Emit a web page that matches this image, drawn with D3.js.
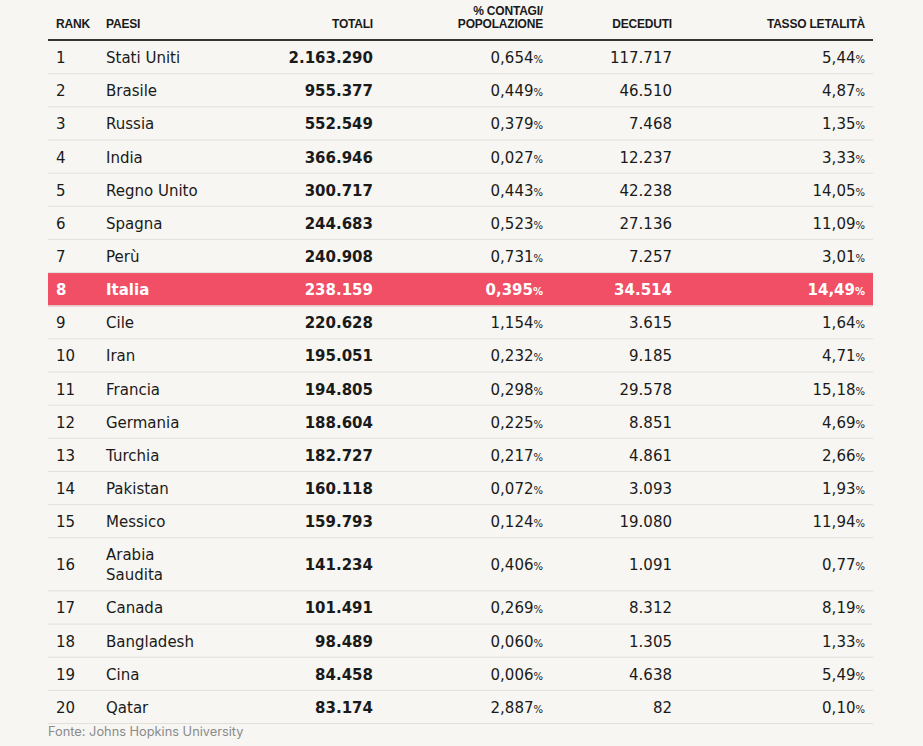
<!DOCTYPE html>
<html lang="it">
<head>
<meta charset="UTF-8">
<title>Contagi per paese</title>
<script src="https://d3js.org/d3.v7.min.js"></script>
<style>
  html, body { margin: 0; background: #f7f6f2; }
  svg { display: block; }
  .head { font-family: "Liberation Sans", Arial, sans-serif; font-weight: 700; font-size: 12px; letter-spacing: -0.2px; fill: #1a1a1a; }
  .cell { font-family: "DejaVu Sans", sans-serif; font-size: 15px; }
  .bold { font-weight: 700; }
  .pct { font-size: 10px; }
  .source { font-family: Inter, "Liberation Sans", sans-serif; font-size: 12.8px; fill: #8a8a8a; }
</style>
</head>
<body>
<script>
  const width = 923;
  const height = 746;

  // data
  const ranks = d3.range(1, 21);
  const countries = ["Stati Uniti", "Brasile", "Russia", "India", "Regno Unito", "Spagna", "Perù",
    "Italia", "Cile", "Iran", "Francia", "Germania", "Turchia", "Pakistan", "Messico",
    "Arabia Saudita", "Canada", "Bangladesh", "Cina", "Qatar"];
  const totals = [2163290, 955377, 552549, 366946, 300717, 244683, 240908, 238159, 220628, 195051,
    194805, 188604, 182727, 160118, 159793, 141234, 101491, 98489, 84458, 83174];
  const pctPopulation = [0.654, 0.449, 0.379, 0.027, 0.443, 0.523, 0.731, 0.395, 1.154, 0.232,
    0.298, 0.225, 0.217, 0.072, 0.124, 0.406, 0.269, 0.060, 0.006, 2.887];
  const deaths = [117717, 46510, 7468, 12237, 42238, 27136, 7257, 34514, 3615, 9185,
    29578, 8851, 4861, 3093, 19080, 1091, 8312, 1305, 4638, 82];
  const lethality = [5.44, 4.87, 1.35, 3.33, 14.05, 11.09, 3.01, 14.49, 1.64, 4.71,
    15.18, 4.69, 2.66, 1.93, 11.94, 0.77, 8.19, 1.33, 5.49, 0.10];
  const highlight = "Italia";
  const headers = [["RANK"], ["PAESI"], ["TOTALI"], ["% CONTAGI/", "POPOLAZIONE"], ["DECEDUTI"], ["TASSO LETALITÀ"]];

  const it = d3.formatLocale({ decimal: ",", thousands: ".", grouping: [3], currency: ["", "€"] });
  const fmtInt = it.format(",d");
  const fmt3 = it.format(".3f");
  const fmt2 = it.format(".2f");

  const rows = ranks.map((r, i) => ({
    rank: r, country: countries[i], total: totals[i],
    pct: pctPopulation[i], deaths: deaths[i], leth: lethality[i]
  }));

  const tableLeft = 48, tableRight = 873, tableTop = 40, baseRow = 33.15, lineH = 20;

  // column anchors
  const cols = [
    { x: 56, anchor: "start" },
    { x: 106, anchor: "start" },
    { x: 373, anchor: "end" },
    { x: 543, anchor: "end" },
    { x: 672, anchor: "end" },
    { x: 865, anchor: "end" }
  ];

  const svg = d3.select("body").append("svg")
    .attr("width", width)
    .attr("height", height);

  // measure for wrapping country names
  const measure = svg.append("text").attr("class", "cell").attr("visibility", "hidden");
  function wrap(name) {
    measure.text(name);
    if (measure.node().getComputedTextLength() <= 100) return [name];
    const words = name.split(" ");
    const out = [];
    let line = "";
    words.forEach(w => {
      const test = line ? line + " " + w : w;
      measure.text(test);
      if (measure.node().getComputedTextLength() > 100 && line) { out.push(line); line = w; }
      else line = test;
    });
    out.push(line);
    return out;
  }
  rows.forEach(d => {
    d.lines = wrap(d.country);
    d.h = baseRow + (d.lines.length - 1) * lineH;
  });
  measure.remove();

  let acc = tableTop;
  rows.forEach(d => { d.y0 = acc; acc += d.h; d.y1 = acc; });

  const y = d3.scaleLinear().domain([tableTop, acc]).range([tableTop, acc]);

  // header
  const head = svg.append("g");
  headers.forEach((lines, c) => {
    const t = head.append("text")
      .attr("class", "head")
      .attr("text-anchor", cols[c].anchor);
    lines.forEach((l, k) => {
      t.append("tspan")
        .attr("x", cols[c].x)
        .attr("y", 28 - (lines.length - 1 - k) * 13)
        .text(l);
    });
  });

  // rows
  const g = svg.append("g");
  const row = g.selectAll("g.row")
    .data(rows)
    .join("g")
    .attr("class", "row");

  row.filter(d => d.country === highlight)
    .append("rect")
    .attr("x", tableLeft)
    .attr("y", d => y(d.y0) + 1)
    .attr("width", tableRight - tableLeft)
    .attr("height", d => y(d.y1) - y(d.y0))
    .attr("fill", "#f04f66");

  row.append("line")
    .attr("x1", tableLeft).attr("x2", tableRight)
    .attr("y1", d => y(d.y1) + 0.5).attr("y2", d => y(d.y1) + 0.5)
    .attr("stroke", "#e2e0da")
    .attr("stroke-width", 1);

  const mid = d => (y(d.y0) + y(d.y1)) / 2 + 6.5;
  const isHi = d => d.country === highlight;
  const cellText = (sel, c, bold) => sel.append("text")
    .attr("class", d => "cell" + (bold || isHi(d) ? " bold" : ""))
    .attr("x", cols[c].x)
    .attr("y", mid)
    .attr("text-anchor", cols[c].anchor)
    .attr("fill", d => isHi(d) ? "#fff" : "#1a1a1a");

  cellText(row, 0, false).text(d => d.rank);

  cellText(row, 1, false)
    .attr("y", null)
    .each(function(d) {
      const n = d.lines.length;
      d3.select(this).selectAll("tspan")
        .data(d.lines)
        .join("tspan")
        .attr("x", cols[1].x)
        .attr("y", (l, k) => mid(d) + (k - (n - 1) / 2) * lineH)
        .text(l => l);
    });

  cellText(row, 2, true).text(d => fmtInt(d.total));

  const pctCell = (c, val, f) => {
    const t = cellText(row, c, false);
    t.append("tspan").text(d => f(val(d)));
    t.append("tspan").attr("class", "pct").text("%");
  };
  pctCell(3, d => d.pct, fmt3);
  cellText(row, 4, false).text(d => fmtInt(d.deaths));
  pctCell(5, d => d.leth, fmt2);

  // header rule
  svg.append("line")
    .attr("x1", tableLeft).attr("x2", tableRight)
    .attr("y1", tableTop).attr("y2", tableTop)
    .attr("stroke", "#333")
    .attr("stroke-width", 2);

  svg.append("text")
    .attr("class", "source")
    .attr("x", tableLeft)
    .attr("y", y(acc) + 13)
    .text("Fonte: Johns Hopkins University");
</script>
</body>
</html>
